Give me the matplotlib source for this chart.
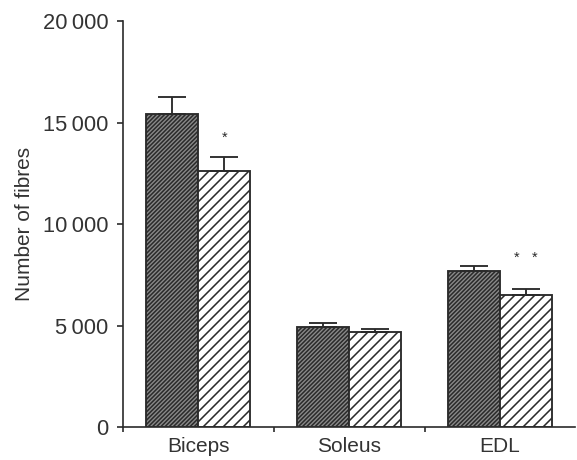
import numpy as np
import matplotlib
matplotlib.use("Agg")
import matplotlib.pyplot as plt

# values
muscles = ["Biceps", "Soleus", "EDL"]
control = [15450, 4950, 7700]
control_err = [800, 200, 230]
treated = [12600, 4700, 6520]
treated_err = [700, 150, 290]
stars = ["*", "", "*   *"]
star_y = [14250, 0, 8350]
yticks = [0, 5000, 10000, 15000, 20000]
ytick_labels = ["0", "5\u2009000", "10\u2009000", "15\u2009000", "20\u2009000"]

plt.rcParams["font.family"] = ["Liberation Sans", "DejaVu Sans"]
plt.rcParams["hatch.linewidth"] = 0.75
plt.rcParams["hatch.color"] = "black"

dpi = 150
fig = plt.figure(figsize=(577/dpi, 460/dpi), dpi=dpi)
ax = fig.add_axes([0.2132, 0.0717, 0.784, 0.882])

x = np.arange(len(muscles))
w = 0.345
ink = "#2b2b2b"
txt = "#333333"

ax.bar(x - w/2, control, w, color="#8a8a8a", edgecolor=ink, linewidth=0.9,
       hatch="/"*12, zorder=2)
ax.bar(x + w/2, treated, w, color="white", edgecolor=ink, linewidth=0.9,
       hatch="/"*5, zorder=2)
ax.errorbar(x - w/2, control, yerr=[np.zeros(3), control_err], fmt="none",
            ecolor=ink, elinewidth=0.9, capsize=6.7, capthick=0.9, zorder=3)
ax.errorbar(x + w/2, treated, yerr=[np.zeros(3), treated_err], fmt="none",
            ecolor=ink, elinewidth=0.9, capsize=6.7, capthick=0.9, zorder=3)

for i in range(len(muscles)):
    if stars[i]:
        ax.text(x[i] + w/2, star_y[i], stars[i], ha="center", va="center",
                fontsize=7, color=ink)

ax.set_xlim(-0.5, 2.5)
ax.set_ylim(0, 20000)
ax.set_yticks(yticks)
ax.set_yticklabels(ytick_labels)
ax.set_xticks([-0.5, 0.5, 1.5])
ax.set_xticklabels([])
ax.set_xticks(x, minor=True)
ax.set_xticklabels(muscles, minor=True)
ax.tick_params(axis="x", which="minor", length=0, pad=5, labelsize=10, labelcolor=txt)
ax.tick_params(axis="x", which="major", length=2.5, width=0.8, color=ink)
ax.tick_params(axis="y", length=3, width=0.8, color=ink, pad=4,
               labelsize=10.5, labelcolor=txt)

ax.set_ylabel("Number of fibres", fontsize=10, color=txt, labelpad=4)

for s in ["top", "right"]:
    ax.spines[s].set_visible(False)
for s in ["left", "bottom"]:
    ax.spines[s].set_linewidth(0.8)
    ax.spines[s].set_color(ink)

fig.savefig("out.png", dpi=dpi)
